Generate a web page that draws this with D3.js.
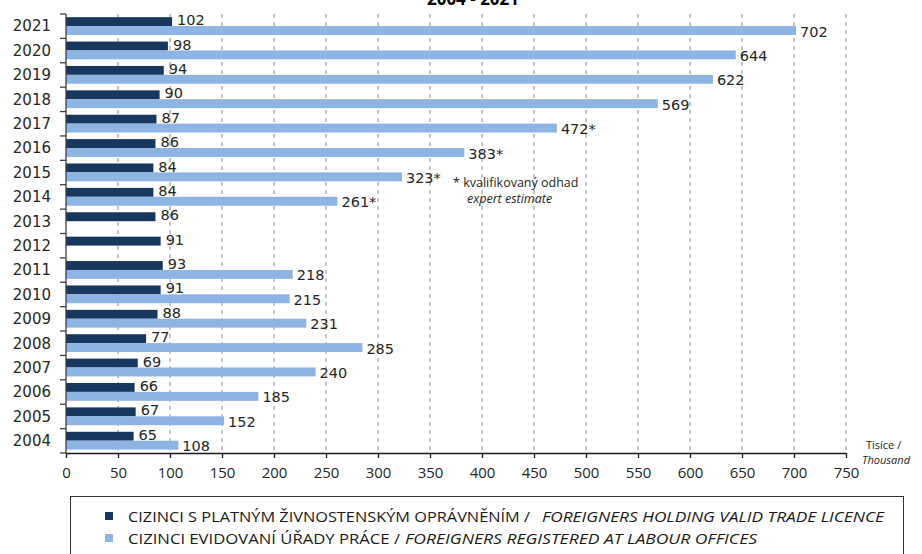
<!DOCTYPE html>
<html>
<head>
<meta charset="utf-8">
<script src="https://cdn.jsdelivr.net/npm/d3@7/dist/d3.min.js"></script>
<style>
  html, body { margin: 0; padding: 0; background: #ffffff; }
  svg { display: block; }
</style>
</head>
<body>
<svg id="chart" width="922" height="554"></svg>
<script>
// Years, top row first
const years = [2021, 2020, 2019, 2018, 2017, 2016, 2015, 2014, 2013, 2012,
               2011, 2010, 2009, 2008, 2007, 2006, 2005, 2004];
// Foreigners holding a valid trade licence (thousands)
const tradeLicence = [102, 98, 94, 90, 87, 86, 84, 84, 86, 91,
                      93, 91, 88, 77, 69, 66, 67, 65];
// Foreigners registered at labour offices (thousands); no data for 2012–2013
const labourOffices = [702, 644, 622, 569, 472, 383, 323, 261, null, null,
                       218, 215, 231, 285, 240, 185, 152, 108];
// Values that are expert estimates (marked with *)
const estimated = [false, false, false, false, true, true, true, true, false, false,
                   false, false, false, false, false, false, false, false];
const xTicks = [0, 50, 100, 150, 200, 250, 300, 350, 400, 450, 500, 550, 600, 650, 700, 750];

const seriesKeys = ["trade", "labour"];
const colors = { trade: "#17375E", labour: "#8DB4E2" };

const svg = d3.select("#chart");
const plot = { left: 66, right: 846, top: 14, bottom: 453 };

const x = d3.scaleLinear().domain([0, 750]).range([plot.left, plot.right]);
const y = d3.scaleBand().domain(years).range([plot.top, plot.bottom]).padding(0);
const sub = d3.scaleBand().domain(seriesKeys)
  .range([y.bandwidth() * 0.13, y.bandwidth() * 0.86]).padding(0);

const rows = years.map((yr, i) => ({
  year: yr, trade: tradeLicence[i], labour: labourOffices[i], est: estimated[i]
}));

// Title (only its last line fits in the frame)
svg.append("text")
  .attr("x", 473).attr("y", 5)
  .attr("text-anchor", "middle")
  .attr("font-family", "'Open Sans', sans-serif")
  .attr("font-weight", "bold")
  .attr("font-size", 17)
  .attr("fill", "#000")
  .text("2004 - 2021");

// Dashed vertical gridlines
svg.append("g")
  .selectAll("line")
  .data(xTicks.filter(d => d > 0))
  .join("line")
  .attr("x1", d => x(d)).attr("x2", d => x(d))
  .attr("y1", plot.top).attr("y2", plot.bottom)
  .attr("stroke", "#8c8c8c")
  .attr("stroke-width", 1)
  .attr("stroke-dasharray", "4,4");

// Bars
const groups = svg.append("g")
  .selectAll("g")
  .data(rows)
  .join("g")
  .attr("transform", d => `translate(0,${y(d.year)})`);

groups.each(function (d) {
  const g = d3.select(this);
  seriesKeys.forEach(k => {
    if (d[k] == null) return;
    g.append("rect")
      .attr("x", x(0))
      .attr("y", sub(k))
      .attr("width", x(d[k]) - x(0))
      .attr("height", sub.bandwidth())
      .attr("fill", colors[k]);
  });
});

// Value labels
const labelFont = "'DejaVu Sans', 'Open Sans', sans-serif";
groups.each(function (d) {
  const g = d3.select(this);
  g.append("text")
    .attr("x", x(d.trade) + 5)
    .attr("y", sub("trade") + sub.bandwidth() / 2 - 1.5)
    .attr("dy", "0.35em")
    .attr("font-family", labelFont)
    .attr("font-size", 14.5)
    .attr("fill", "#262626")
    .text(d.trade);
  if (d.labour != null) {
    g.append("text")
      .attr("x", x(d.labour) + 4)
      .attr("y", sub("labour") + sub.bandwidth() / 2 + 1)
      .attr("dy", "0.35em")
      .attr("font-family", labelFont)
      .attr("font-size", 14.5)
      .attr("fill", "#262626")
      .text(d.labour + (d.est ? "*" : ""));
  }
});

// Estimate note
const note = svg.append("g").attr("font-family", "'Open Sans', sans-serif")
  .attr("font-size", 12.5).attr("fill", "#262626");
note.append("text").attr("x", 453).attr("y", 187).text("* kvalifikovaný odhad");
note.append("text").attr("x", 467).attr("y", 203).attr("font-style", "italic").text("expert estimate");

// Y axis: line, row boundary ticks, year labels
const yAxis = svg.append("g");
yAxis.append("line")
  .attr("x1", plot.left).attr("x2", plot.left)
  .attr("y1", plot.top).attr("y2", plot.bottom)
  .attr("stroke", "#404040").attr("stroke-width", 1.3);
const bounds = years.map(yr => y(yr)).concat([plot.bottom]);
yAxis.selectAll("line.tick")
  .data(bounds)
  .join("line")
  .attr("class", "tick")
  .attr("x1", plot.left - 6).attr("x2", plot.left)
  .attr("y1", d => d).attr("y2", d => d)
  .attr("stroke", "#404040").attr("stroke-width", 1.3);
yAxis.selectAll("text")
  .data(years)
  .join("text")
  .attr("x", 51)
  .attr("y", d => y(d) + y.bandwidth() / 2)
  .attr("dy", "0.35em")
  .attr("text-anchor", "end")
  .attr("font-family", labelFont)
  .attr("font-size", 15)
  .attr("fill", "#262626")
  .text(d => d);

// X axis
const xAxis = svg.append("g")
  .attr("transform", `translate(0,${plot.bottom})`)
  .call(d3.axisBottom(x).tickValues(xTicks).tickSize(5).tickSizeOuter(0).tickPadding(9));
xAxis.select(".domain").attr("stroke", "#1a1a1a").attr("stroke-width", 1.5);
xAxis.selectAll(".tick line").attr("stroke", "#1a1a1a").attr("stroke-width", 1.3);
xAxis.selectAll(".tick text")
  .attr("font-family", "'Open Sans', sans-serif")
  .attr("font-size", 15)
  .attr("fill", "#262626");

// Unit label
const unit = svg.append("g").attr("font-family", "'Open Sans', sans-serif")
  .attr("font-size", 11).attr("fill", "#262626");
unit.append("text").attr("x", 866).attr("y", 449).text("Tisíce /");
unit.append("text").attr("x", 862).attr("y", 464).attr("font-style", "italic").text("Thousand");

// Legend
const legend = svg.append("g");
legend.append("rect")
  .attr("x", 70.5).attr("y", 496.5).attr("width", 833).attr("height", 80)
  .attr("fill", "#fff").attr("stroke", "#333").attr("stroke-width", 1);

const legendRows = [
  { key: "trade", y: 517, plain: "CIZINCI S PLATNÝM ŽIVNOSTENSKÝM OPRÁVNĚNÍM /", italic: "FOREIGNERS HOLDING VALID TRADE LICENCE",
    plainEnd: 530, italicStart: 542, italicEnd: 884 },
  { key: "labour", y: 539, plain: "CIZINCI EVIDOVANÍ ÚŘADY PRÁCE /", italic: "FOREIGNERS REGISTERED AT LABOUR OFFICES",
    plainEnd: 400, italicStart: 405, italicEnd: 757 }
];
const legendFont = "'Liberation Sans Narrow', 'Open Sans', sans-serif";
legendRows.forEach(r => {
  legend.append("rect")
    .attr("x", 105).attr("y", r.y - 5).attr("width", 8).attr("height", 8)
    .attr("fill", colors[r.key]);
  legend.append("text")
    .attr("x", 128).attr("y", r.y).attr("dy", "0.35em")
    .attr("font-family", legendFont).attr("font-size", 15).attr("fill", "#1a1a1a")
    .attr("textLength", r.plainEnd - 128).attr("lengthAdjust", "spacingAndGlyphs")
    .text(r.plain);
  legend.append("text")
    .attr("x", r.italicStart).attr("y", r.y).attr("dy", "0.35em")
    .attr("font-family", legendFont).attr("font-size", 15).attr("font-style", "italic").attr("fill", "#1a1a1a")
    .attr("textLength", r.italicEnd - r.italicStart).attr("lengthAdjust", "spacingAndGlyphs")
    .text(r.italic);
});
</script>
</body>
</html>
